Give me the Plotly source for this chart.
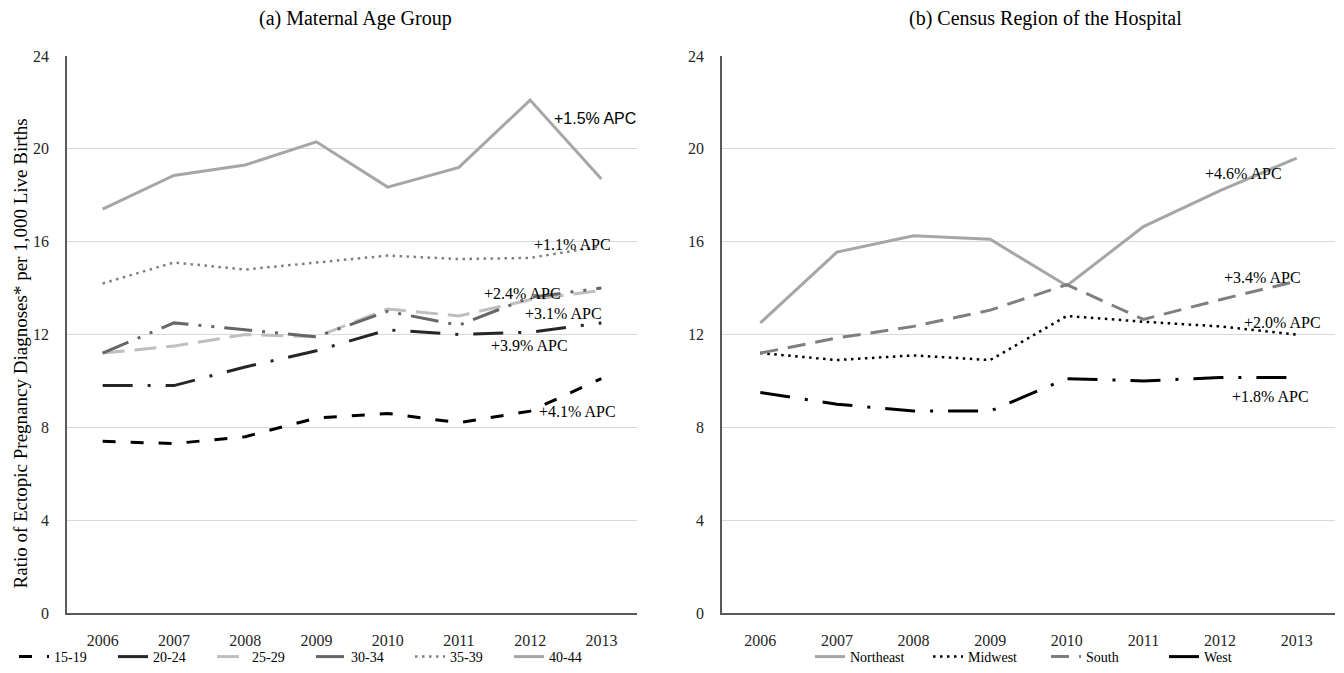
import plotly.graph_objects as go

years = [2006, 2007, 2008, 2009, 2010, 2011, 2012, 2013]

# Panel (a) Maternal age group
age_groups = ["15-19", "20-24", "25-29", "30-34", "35-39", "40-44"]
age_15_19 = [7.4, 7.3, 7.6, 8.4, 8.6, 8.2, 8.7, 10.1]
age_20_24 = [9.8, 9.8, 10.6, 11.3, 12.2, 12.0, 12.1, 12.5]
age_25_29 = [11.2, 11.5, 12.0, 11.9, 13.1, 12.8, 13.5, 13.9]
age_30_34 = [11.2, 12.5, 12.2, 11.9, 13.0, 12.4, 13.6, 14.0]
age_35_39 = [14.2, 15.1, 14.8, 15.1, 15.4, 15.25, 15.3, 15.8]
age_40_44 = [17.4, 18.85, 19.3, 20.3, 18.35, 19.2, 22.1, 18.7]
age_apc = ["+4.1% APC", "+3.9% APC", "+2.4% APC", "+3.1% APC", "+1.1% APC", "+1.5% APC"]

# Panel (b) Census region
regions = ["Northeast", "Midwest", "South", "West"]
northeast = [12.5, 15.55, 16.25, 16.1, 14.1, 16.65, 18.2, 19.6]
midwest = [11.2, 10.9, 11.1, 10.9, 12.8, 12.55, 12.35, 12.0]
south = [11.2, 11.85, 12.35, 13.05, 14.15, 12.65, 13.5, 14.3]
west = [9.5, 9.0, 8.7, 8.7, 10.1, 10.0, 10.15, 10.15]
region_apc = ["+4.6% APC", "+2.0% APC", "+3.4% APC", "+1.8% APC"]

yticks = [0, 4, 8, 12, 16, 20, 24]

# page body has an 8px margin: draw a slightly smaller figure and offset coordinates
OFF = 8
W, H = 1344 - OFF, 673 - OFF
SERIF = "Liberation Serif, Times New Roman, serif"
SANS = "Liberation Sans, Arial, sans-serif"

def px_x(p):
    return (p - OFF) / W

def px_y(p):
    return 1 - (p - OFF) / H

fig = go.Figure()

age_series = [age_15_19, age_20_24, age_25_29, age_30_34, age_35_39, age_40_44]
age_styles = [
    dict(color="#000000", width=3, dash="13px,15px"),
    dict(color="#262626", width=3, dash="30px,15px,3px,15px"),
    dict(color="#bfbfbf", width=3, dash="22px,10px"),
    dict(color="#666666", width=3, dash="28px,10px,3px,10px,3px,10px"),
    dict(color="#7f7f7f", width=2.5, dash="2.5px,4.5px"),
    dict(color="#a6a6a6", width=3),
]
for name, vals, st in zip(age_groups, age_series, age_styles):
    fig.add_trace(go.Scatter(x=years, y=vals, name=name, mode="lines", line=st,
                             xaxis="x", yaxis="y", legend="legend"))

reg_series = [northeast, midwest, south, west]
reg_styles = [
    dict(color="#a6a6a6", width=3),
    dict(color="#000000", width=2.5, dash="2.5px,4.5px"),
    dict(color="#7f7f7f", width=3, dash="18px,10px"),
    dict(color="#000000", width=3, dash="30px,15px,3px,15px"),
]
for name, vals, st in zip(regions, reg_series, reg_styles):
    fig.add_trace(go.Scatter(x=years, y=vals, name=name, mode="lines", line=st,
                             xaxis="x2", yaxis="y2", legend="legend2"))

ydom = [px_y(614), px_y(56)]
tickfont = dict(family=SERIF, size=16, color="#262626")
yaxis_common = dict(showgrid=True, gridcolor="#d9d9d9", gridwidth=1, zeroline=False,
                    showline=True, linecolor="#595959", linewidth=1.5, ticks="",
                    tickfont=tickfont, automargin=False, range=[0, 24], tickvals=yticks,
                    ticklabelstandoff=13, domain=ydom)
xaxis_common = dict(showgrid=False, zeroline=False, showline=True, linecolor="#595959",
                    linewidth=1.5, ticks="", ticklabelstandoff=12, tickfont=tickfont,
                    automargin=False, range=[2005.5, 2013.5], tickvals=years)

fig.update_layout(
    width=W, height=H,
    margin=dict(l=0, r=0, t=0, b=0),
    paper_bgcolor="white", plot_bgcolor="white",
    font=dict(family=SERIF, color="#000000"),
    showlegend=True,
    xaxis=dict(domain=[px_x(67), px_x(637)], anchor="y", **xaxis_common),
    yaxis=dict(anchor="x", **yaxis_common),
    xaxis2=dict(domain=[px_x(722), px_x(1335)], anchor="y2", **xaxis_common),
    yaxis2=dict(anchor="x2", **yaxis_common),
    legend=dict(orientation="h", x=px_x(14), xanchor="left", y=px_y(658), yanchor="middle",
                entrywidth=54, entrywidthmode="pixels", bgcolor="rgba(0,0,0,0)",
                font=dict(family=SERIF, size=14, color="#000000"), traceorder="normal"),
    legend2=dict(orientation="h", x=px_x(810), xanchor="left", y=px_y(658), yanchor="middle",
                 entrywidth=73, entrywidthmode="pixels", bgcolor="rgba(0,0,0,0)",
                 font=dict(family=SERIF, size=14, color="#000000"), traceorder="normal"),
)

annotations = [
    dict(text="(a) Maternal Age Group", x=px_x(355), y=px_y(19), font=dict(family=SERIF, size=20)),
    dict(text="(b) Census Region of the Hospital", x=px_x(1045), y=px_y(19), font=dict(family=SERIF, size=20)),
    dict(text="Ratio of Ectopic Pregnancy Diagnoses* per 1,000 Live Births", x=px_x(20), y=px_y(354),
         textangle=-90, font=dict(family=SERIF, size=19)),
]
# APC labels: (left edge px, center px y)
age_label_pos = [(537, 412), (489, 346), (482, 294), (523, 314), (532, 245), (552, 119)]
for txt, (lx, ly) in zip(age_apc, age_label_pos):
    fam = SANS if txt == "+1.5% APC" else SERIF
    annotations.append(dict(text=txt, x=px_x(lx), y=px_y(ly), xanchor="left",
                            font=dict(family=fam, size=16)))
reg_label_pos = [(1203, 174), (1242, 323), (1222, 278), (1230, 397)]
for txt, (lx, ly) in zip(region_apc, reg_label_pos):
    annotations.append(dict(text=txt, x=px_x(lx), y=px_y(ly), xanchor="left",
                            font=dict(family=SERIF, size=16)))

for a in annotations:
    a.setdefault("xanchor", "center")
    a.update(xref="paper", yref="paper", showarrow=False, yanchor="middle")
    a["font"]["color"] = "#000000"
fig.update_layout(annotations=annotations)

fig.write_html("out.html")
